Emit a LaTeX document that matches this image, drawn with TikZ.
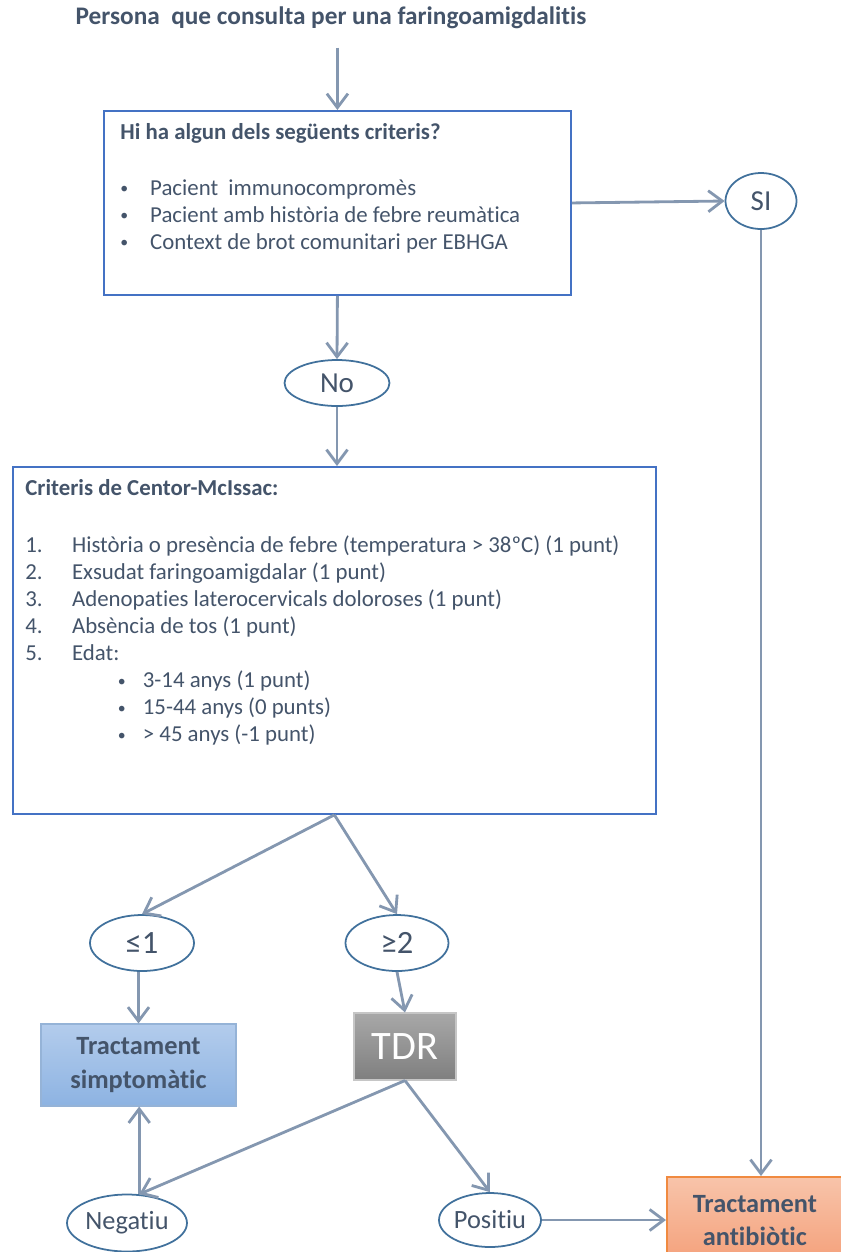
\documentclass[tikz,border=0pt]{standalone}
\usepackage{fontspec}
\setmainfont{Carlito}[Ligatures=NoCommon]
\usetikzlibrary{shapes.geometric,arrows.meta,positioning}
\definecolor{txtgray}{HTML}{44546A}
\definecolor{arrgray}{HTML}{8497B0}
\definecolor{boxblue}{HTML}{4472C4}
\definecolor{ovalblue}{HTML}{41719C}
\definecolor{simptop}{HTML}{B3CCEC}
\definecolor{simpbot}{HTML}{8DB3E2}
\definecolor{simpline}{HTML}{95B3D7}
\definecolor{tdrtop}{HTML}{A8A8A8}
\definecolor{tdrbot}{HTML}{7F7F7F}
\definecolor{antitop}{HTML}{F8C4AA}
\definecolor{antibot}{HTML}{F4A07A}
\definecolor{antiline}{HTML}{F08A40}
\newcommand{\dotmark}{\raisebox{0.8pt}{\fontsize{9}{9}\selectfont\textbullet}}
\newcommand{\bul}[1]{\makebox[17pt][l]{\dotmark}#1}
\newcommand{\critem}[2]{\makebox[26.6pt][l]{#1}#2}
\newcommand{\subbul}[1]{\hspace*{52.7pt}\makebox[14.2pt][l]{\dotmark}#1}

\begin{document}
\begin{tikzpicture}[x=0.02cm,y=-0.02cm,
    flow/.style={-{Straight Barb[length=8pt,width=12pt]},line width=1.6pt,arrgray},
    critbox/.style={draw=boxblue,line width=1.1pt,anchor=north west,inner sep=0pt},
    boxtext/.style={anchor=north west,inner sep=0pt,align=left,text=txtgray},
    oval/.style={ellipse,draw=ovalblue,line width=1pt,fill=white,inner sep=0pt,text=txtgray},
    treat/.style={rectangle,inner sep=0pt,align=center,text=txtgray,font=\fontsize{15}{19}\selectfont\bfseries}]
    \useasboundingbox (0,0) rectangle (841,1252);
    % question at the top
    \node[text=txtgray,font=\fontsize{14.4}{16}\selectfont\bfseries] (persona) at (331,18) {Persona\ \ que consulta per una faringoamigdalitis};
    % first criteria box
    \node[critbox,minimum width=9.34cm,minimum height=3.68cm] (crit) at (103,110) {};
    \node[boxtext,font=\fontsize{13}{15.3}\selectfont,below right=0.26cm and 0.34cm of crit.north west] (crittxt)
        {\textbf{Hi ha algun dels següents criteris?}\\[16.5pt]
         \bul{Pacient\ \ immunocompromès}\\
         \bul{Pacient amb història de febre reumàtica}\\
         \bul{Context de brot comunitari per EBHGA}};
    % Centor box
    \node[critbox,minimum width=12.86cm,minimum height=6.94cm] (centor) at (12,466) {};
    \node[boxtext,font=\fontsize{13}{15.4}\selectfont,below right=0.26cm and 0.26cm of centor.north west] (centortxt)
        {\textbf{Criteris de Centor-McIssac:}\\[16.9pt]
         \critem{1.}{Història o presència de febre (temperatura > 38ºC) (1 punt)}\\
         \critem{2.}{Exsudat faringoamigdalar (1 punt)}\\
         \critem{3.}{Adenopaties laterocervicals doloroses (1 punt)}\\
         \critem{4.}{Absència de tos (1 punt)}\\
         \critem{5.}{Edat:}\\
         \subbul{3-14 anys (1 punt)}\\
         \subbul{15-44 anys (0 punts)}\\
         \subbul{> 45 anys (-1 punt)}};
    % answers
    \node[oval,minimum width=1.42cm,minimum height=1.12cm,font=\fontsize{16.5}{18}\selectfont] (si) at (761,201) {SI};
    \node[oval,minimum width=2.1cm,minimum height=0.92cm,font=\fontsize{16.5}{18}\selectfont] (no) at (337,383) {No};
    \node[oval,minimum width=2.08cm,minimum height=1.12cm,font=\fontsize{18.5}{20}\selectfont] (le) at (142,943) {≤1};
    \node[oval,minimum width=2.06cm,minimum height=1.12cm,font=\fontsize{18.5}{20}\selectfont] (ge) at (397,943) {≥2};
    \node[oval,minimum width=2.4cm,minimum height=1.14cm,font=\fontsize{15}{17}\selectfont] (neg) at (127,1223) {Negatiu};
    \node[oval,minimum width=2.04cm,minimum height=1.08cm,font=\fontsize{15}{17}\selectfont] (pos) at (490,1220) {Positiu};
    % treatments and test
    \node[treat,draw=simpline,line width=0.6pt,top color=simptop,bottom color=simpbot,minimum width=3.9cm,minimum height=1.64cm] (simp) at (138.5,1065) {Tractament\\simptomàtic};
    \node[rectangle,draw=gray!45,line width=0.6pt,top color=tdrtop,bottom color=tdrbot,minimum width=2.04cm,minimum height=1.34cm,text=white,font=\fontsize{23}{25}\selectfont] (tdr) at (405,1046.5) {TDR};
    \node[treat,draw=antiline,line width=1pt,top color=antitop,bottom color=antibot,minimum width=3.52cm,minimum height=1.74cm,anchor=north west] (anti) at (666,1176) {Tractament\\antibiòtic};
    % arrows
    \draw[flow,shorten <=7pt] (persona.south -| crit.north) -- (crit.north);
    \draw[flow] (crit.east) -- (si.west);
    \draw[flow] (si.south) -- (si.south |- anti.north);
    \draw[flow] (crit.south) -- (no.north);
    \draw[flow] (no.south) -- (no.south |- centor.north);
    \draw[flow] (centor.south) -- (le.north);
    \draw[flow] (centor.south) -- (ge.north);
    \draw[flow] (le.south -| simp.north) -- (simp.north);
    \draw[flow] (ge.south) -- (tdr.north);
    \draw[flow] (tdr.south) -- (neg.67);
    \draw[flow] (tdr.south) -- (pos.north);
    \draw[flow] (neg.67) -- (neg.67 |- simp.south);
    \draw[flow] (pos.east) -- (pos.east -| anti.west);
\end{tikzpicture}
\end{document}
